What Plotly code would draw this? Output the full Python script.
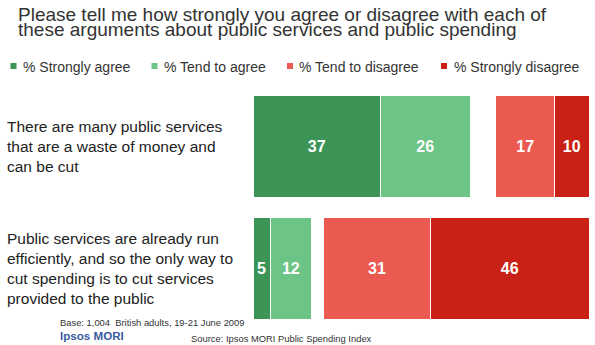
import plotly.graph_objects as go

# Survey statements (top to bottom)
statements = [
    "There are many public services<br>that are a waste of money and<br>can be cut",
    "Public services are already run<br>efficiently, and so the only way to<br>cut spending is to cut services<br>provided to the public",
]
keys = ["waste", "efficient"]

strongly_agree = [37, 5]
tend_to_agree = [26, 12]
tend_to_disagree = [17, 31]
strongly_disagree = [10, 46]
# blank space between the agree and disagree blocks
spacer = [7.5, 3.5]

series_names = ["% Strongly agree", "% Tend to agree", "% Tend to disagree", "% Strongly disagree"]
colors = ["#3C9556", "#6CC486", "#EB5A50", "#CA2116"]

W, H = 595, 345
L, R, T, B = 253, 6, 85, 15
PW, PH = W - L - R, H - T - B


def px(x):
    return (x - L) / PW


def py(y):
    return (H - B - y) / PH


font = "Liberation Sans, Arial, Helvetica, sans-serif"

fig = go.Figure()


def add_bar(values, name, color):
    fig.add_trace(go.Bar(
        y=keys, x=values, name=name, orientation="h",
        marker=dict(color=color, line=dict(color="white", width=1)),
        text=values, texttemplate="%{x}",
        textposition="inside", insidetextanchor="middle",
        constraintext="none",
        textfont=dict(family=font, size=16, color="white", weight="bold"),
        hoverinfo="skip", showlegend=False,
    ))


add_bar(strongly_agree, series_names[0], colors[0])
add_bar(tend_to_agree, series_names[1], colors[1])
fig.add_trace(go.Bar(
    y=keys, x=spacer, orientation="h", marker=dict(color="rgba(0,0,0,0)", line=dict(width=0)),
    hoverinfo="skip", showlegend=False,
))
add_bar(tend_to_disagree, series_names[2], colors[2])
add_bar(strongly_disagree, series_names[3], colors[3])

annotations = []
shapes = []

# Title, two tightly spaced lines
title_lines = [
    "Please tell me how strongly you agree or disagree with each of",
    "these arguments about public services and public spending",
]
for txt, yc in zip(title_lines, [14, 30]):
    annotations.append(dict(
        text=txt, xref="paper", yref="paper", x=px(16), y=py(yc),
        xanchor="left", yanchor="middle", showarrow=False,
        font=dict(family=font, size=19, color="#333333"),
    ))

# Legend row
legend_sq = [10.5, 151.5, 287, 441]
legend_txt = [21, 162, 297, 452]
for name, color, sx, tx in zip(series_names, colors, legend_sq, legend_txt):
    shapes.append(dict(
        type="rect", xref="paper", yref="paper",
        x0=px(sx), x1=px(sx + 6), y0=py(69), y1=py(63),
        fillcolor=color, line=dict(width=0),
    ))
    annotations.append(dict(
        text=name, xref="paper", yref="paper", x=px(tx), y=py(66.5),
        xanchor="left", yanchor="middle", showarrow=False,
        font=dict(family=font, size=14, color="#333333"),
    ))

# Statement labels, left aligned beside each bar
for k, s in zip(keys, statements):
    annotations.append(dict(
        text=s, xref="paper", yref="y", x=px(5), y=k,
        xanchor="left", yanchor="middle", align="left", showarrow=False,
        font=dict(family=font, size=15.5, color="#222222"),
    ))

# Footer
annotations += [
    dict(text="Base: 1,004  British adults, 19-21 June 2009", xref="paper", yref="paper",
         x=px(58), y=py(322.7), xanchor="left", yanchor="middle", showarrow=False,
         font=dict(family=font, size=9.4, color="#333333")),
    dict(text="<b>Ipsos MORI</b>", xref="paper", yref="paper",
         x=px(58), y=py(335), xanchor="left", yanchor="middle", showarrow=False,
         font=dict(family=font, size=11.6, color="#3A5AA0")),
    dict(text="Source: Ipsos MORI Public Spending Index", xref="paper", yref="paper",
         x=px(189), y=py(338.3), xanchor="left", yanchor="middle", showarrow=False,
         font=dict(family=font, size=9.4, color="#333333")),
]

fig.update_layout(
    width=W, height=H,
    margin=dict(l=L, r=R, t=T, b=B, pad=0),
    barmode="stack", bargap=0.17,
    plot_bgcolor="white", paper_bgcolor="white",
    showlegend=False,
    annotations=annotations, shapes=shapes,
    xaxis=dict(range=[0, 97.5], visible=False, fixedrange=True),
    yaxis=dict(autorange="reversed", visible=False, fixedrange=True),
)

fig.write_html("out.html", config={"displayModeBar": False})
